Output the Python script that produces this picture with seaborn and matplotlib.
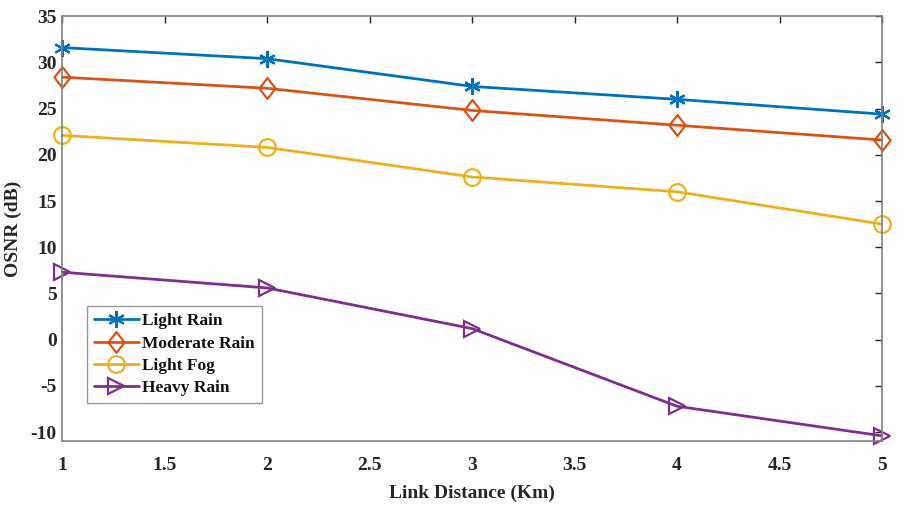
import matplotlib
matplotlib.use("Agg")
import matplotlib.pyplot as plt
from matplotlib.path import Path
import seaborn as sns
import pandas as pd

# Values
distance = [1, 2, 3, 4, 5]
light_rain = [31.6, 30.4, 27.4, 26.0, 24.4]
moderate_rain = [28.4, 27.2, 24.8, 23.2, 21.6]
light_fog = [22.1, 20.8, 17.6, 16.0, 12.5]
heavy_rain = [7.3, 5.6, 1.2, -7.2, -10.4]

series = {
    "Light Rain": light_rain,
    "Moderate Rain": moderate_rain,
    "Light Fog": light_fog,
    "Heavy Rain": heavy_rain,
}
df = pd.DataFrame(
    [(d, name, v) for name, vals in series.items() for d, v in zip(distance, vals)],
    columns=["distance", "condition", "osnr"],
)

# MATLAB-like diamond (a bit wider than matplotlib's thin "d")
diamond = Path([(0, 1), (0.78, 0), (0, -1), (-0.78, 0), (0, 1)], closed=True)

colors = ["#0072BD", "#D95319", "#EDB120", "#7E2F8E"]
markers = [(6, 2, 0), diamond, "o", ">"]
msizes = [12, 15, 12, 12]

sns.set_style("white")
plt.rcParams["font.family"] = ["Liberation Serif", "DejaVu Serif"]
plt.rcParams["font.weight"] = "bold"
plt.rcParams["axes.unicode_minus"] = False

fig = plt.figure(figsize=(9.14, 5.05), dpi=100)
ax = fig.add_axes([0.068, 0.126, 0.897, 0.842])

for (name, _), c, m, ms in zip(series.items(), colors, markers, msizes):
    sub = df[df["condition"] == name]
    sns.lineplot(
        data=sub, x="distance", y="osnr", ax=ax, color=c, marker=m,
        markersize=ms, markerfacecolor="none", markeredgecolor=c,
        markeredgewidth=1.6, linewidth=2, label=name, clip_on=False,
    )

ax.set_xlim(1, 5)
ax.set_ylim(-11, 35)
ax.set_xticks([1, 1.5, 2, 2.5, 3, 3.5, 4, 4.5, 5])
ax.set_xticklabels(["1", "1.5", "2", "2.5", "3", "3.5", "4", "4.5", "5"])
ax.set_yticks(range(-10, 40, 5))
ax.tick_params(direction="in", length=5, width=1, labelsize=14, top=True, right=True,
               color="#262626", labelcolor="#262626")
ax.tick_params(axis="x", pad=11)
ax.tick_params(axis="y", pad=4)
for lab in ax.get_xticklabels() + ax.get_yticklabels():
    lab.set_fontweight("bold")
for s in ax.spines.values():
    s.set_color("#808080")
    s.set_linewidth(1.2)

ax.set_xlabel("Link Distance (Km)", fontsize=14, fontweight="bold", color="#262626", labelpad=8)
ax.set_ylabel("OSNR (dB)", fontsize=14, fontweight="bold", color="#262626", labelpad=6)

leg = ax.legend(loc="lower left", bbox_to_anchor=(0.030, 0.09), borderaxespad=0,
                fontsize=12.5, frameon=True, fancybox=False, edgecolor="#808080",
                handlelength=2.6, borderpad=0.4, labelspacing=0.35, handletextpad=0.2)
leg.get_frame().set_linewidth(1.0)
for t in leg.get_texts():
    t.set_fontweight("bold")
    t.set_color("#111111")

fig.savefig("out.png", dpi=100)
